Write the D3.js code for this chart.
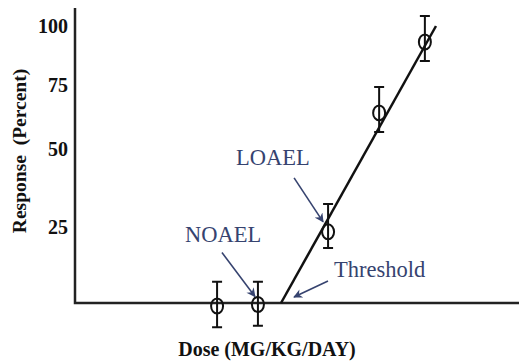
<!DOCTYPE html>
<html>
<head>
<meta charset="utf-8">
<script src="https://cdn.jsdelivr.net/npm/d3@7"></script>
<style>
  html, body { margin: 0; padding: 0; background: #fff; }
  svg { display: block; }
  text { font-family: "Liberation Serif", "Times New Roman", serif; }
</style>
</head>
<body>
<svg id="chart" width="519" height="362"></svg>
<script>
// Dose-response observations (dose in arbitrary units, response in percent)
const doses      = [3.2, 4.12, 5.7, 6.85, 7.88];
const responses  = [-1, -0.5, 23.4, 64.1, 93.2];
const errLow     = [-8, -7.5, 18.1, 56.6, 85.2];
const errHigh    = [7, 7, 32.4, 74.2, 104.2];

// Fitted line: starts at the threshold dose and rises to the top
const lineDoses     = [4.64, 8.13];
const lineResponses = [0, 100];

// Y-axis labels
const yTicks = [25, 50, 75, 100];

// Annotations: label and the point each arrow refers to
const annLabels  = ["NOAEL", "LOAEL", "Threshold"];
const annTargets = [[4.12, -0.5], [5.7, 23.4], [4.64, 0]];

const svg = d3.select("#chart");
const plotLeft = 75, plotRight = 519, plotTop = 8, plotBottom = 303;

const x = d3.scaleLinear().domain([0, 10]).range([plotLeft, plotRight]);
// The response axis is stretched unevenly between its labels
const y = d3.scaleLinear()
  .domain([0, 25, 50, 75, 100])
  .range([plotBottom, 227, 149, 85, 26]);

const ink = "#111";
const navy = "#36436f";

// Axes
svg.append("path")
  .attr("d", `M${plotLeft},${plotTop}V${plotBottom}H${plotRight}`)
  .attr("fill", "none").attr("stroke", "#222").attr("stroke-width", 2.5);

const yAxis = d3.axisLeft(y).tickValues(yTicks).tickSize(0).tickPadding(7);
const gy = svg.append("g").attr("transform", `translate(${plotLeft},0)`).call(yAxis);
gy.select(".domain").remove();
gy.selectAll("text")
  .attr("font-family", "Liberation Serif, serif")
  .attr("font-weight", "bold")
  .attr("font-size", 20)
  .attr("fill", "#111")
  .attr("dy", "0.33em");

// Axis titles
svg.append("text")
  .attr("transform", `translate(26,151) rotate(-90)`)
  .attr("text-anchor", "middle")
  .attr("font-weight", "bold").attr("font-size", 19.5).attr("fill", "#111")
  .attr("xml:space", "preserve")
  .text("Response  (Percent)");

svg.append("text")
  .attr("x", 267).attr("y", 356)
  .attr("text-anchor", "middle")
  .attr("font-weight", "bold").attr("font-size", 20).attr("fill", "#111")
  .text("Dose (MG/KG/DAY)");

// Fitted line
svg.append("line")
  .attr("x1", x(lineDoses[0])).attr("y1", y(lineResponses[0]))
  .attr("x2", x(lineDoses[1])).attr("y2", y(lineResponses[1]))
  .attr("stroke", ink).attr("stroke-width", 2.5);

// Error bars and markers
const pts = doses.map((d, i) => ({ d, r: responses[i], lo: errLow[i], hi: errHigh[i] }));
const g = svg.append("g").attr("stroke", ink).attr("stroke-width", 2).attr("fill", "none");
const cap = 5;
g.selectAll(".bar").data(pts).join("path")
  .attr("d", p => {
    const cx = x(p.d), y1 = y(p.hi), y2 = y(p.lo);
    return `M${cx - cap},${y1}H${cx + cap}M${cx},${y1}V${y2}M${cx - cap},${y2}H${cx + cap}`;
  });
g.selectAll("ellipse").data(pts).join("ellipse")
  .attr("cx", p => x(p.d)).attr("cy", p => y(p.r))
  .attr("rx", 6).attr("ry", 7.5);

// Arrow marker
svg.append("defs").append("marker")
  .attr("id", "head").attr("viewBox", "0 0 10 10")
  .attr("refX", 9).attr("refY", 5)
  .attr("markerWidth", 11).attr("markerHeight", 9)
  .attr("markerUnits", "userSpaceOnUse")
  .attr("orient", "auto")
  .append("path").attr("d", "M0,0L10,5L0,10L3,5Z").attr("fill", navy);

// Annotation layout (pixel offsets from the target point)
const headOffset = [[-3, -8], [-5, -10], [13, -6]];
const tailOffset = [[-36, -52], [-34, -54], [47, -22]];
const textOffset = [[-73, -63], [-92, -67], [53, -26]];

annLabels.forEach((label, i) => {
  const tx = x(annTargets[i][0]), ty = y(annTargets[i][1]);
  svg.append("line")
    .attr("x1", tx + tailOffset[i][0]).attr("y1", ty + tailOffset[i][1])
    .attr("x2", tx + headOffset[i][0]).attr("y2", ty + headOffset[i][1])
    .attr("stroke", navy).attr("stroke-width", 1.6)
    .attr("marker-end", "url(#head)");
  svg.append("text")
    .attr("x", tx + textOffset[i][0]).attr("y", ty + textOffset[i][1])
    .attr("font-size", 22.5).attr("fill", navy)
    .text(label);
});
</script>
</body>
</html>
